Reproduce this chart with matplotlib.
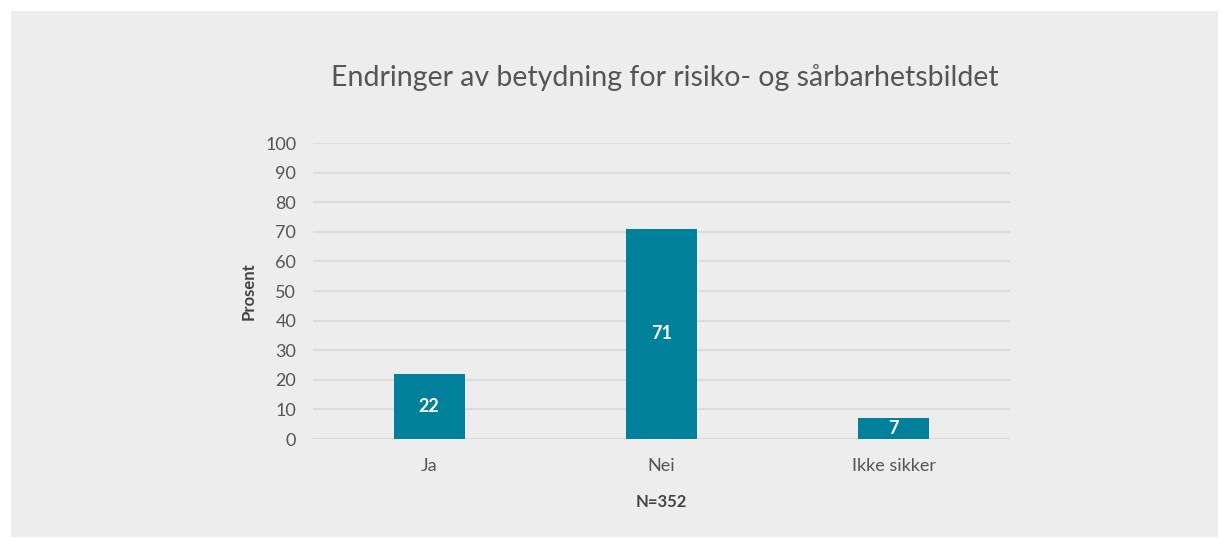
import matplotlib.pyplot as plt
from matplotlib.patches import Rectangle

categories = ["Ja", "Nei", "Ikke sikker"]
values = [22, 71, 7]
yticks = [0, 10, 20, 30, 40, 50, 60, 70, 80, 90, 100]

plt.rcParams['font.family'] = ['Lato', 'DejaVu Sans']

fig = plt.figure(figsize=(12.22, 5.39), dpi=100, facecolor='white')
# grey panel behind the chart
fig.patches.append(Rectangle((11 / 1222, 2 / 539), 1207 / 1222, 526 / 539,
                             transform=fig.transFigure, facecolor='#ededed',
                             edgecolor='none', zorder=-10))

ax = fig.add_axes([313 / 1222, 100 / 539, 697 / 1222, 296 / 539])
ax.set_facecolor('none')
ax.set_zorder(1)

x = range(len(categories))
bars = ax.bar(x, values, width=0.305, color='#00809b', zorder=3)
for b, v in zip(bars, values):
    ax.text(b.get_x() + b.get_width() / 2, v / 2, str(v), ha='center', va='center',
            color='white', fontsize=13, fontweight='bold', zorder=4)

ax.set_xlim(-0.5, 2.5)
ax.set_ylim(0, 100)
ax.set_yticks(yticks)
ax.set_xticks(list(x))
ax.set_xticklabels(categories)
ax.grid(axis='y', color='#dcdcdc', linewidth=1.6, zorder=0)
ax.set_axisbelow(True)
for s in ax.spines.values():
    s.set_visible(False)
ax.tick_params(axis='y', length=0, pad=12, labelsize=13, labelcolor='#555555')
ax.tick_params(axis='x', length=0, pad=14, labelsize=13, labelcolor='#555555')

ax.set_ylabel("Prosent", fontsize=12, fontweight='bold', color='#444444', labelpad=6)
ax.set_xlabel("N=352", fontsize=12, fontweight='bold', color='#444444', labelpad=14)

fig.text(665 / 1222, 1 - 78 / 539, "Endringer av betydning for risiko- og sårbarhetsbildet",
         ha='center', va='center', fontsize=20.5, color='#555555', zorder=2)

fig.savefig("out.png", dpi=100, facecolor='white')
